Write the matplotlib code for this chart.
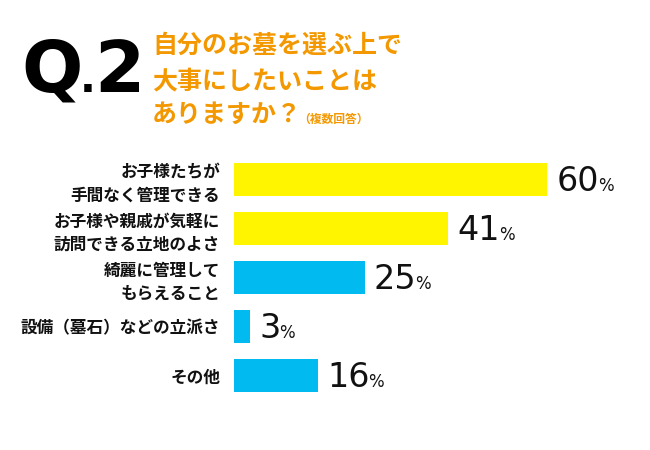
import matplotlib
matplotlib.use("Agg")
from matplotlib import pyplot as plt

plt.rcParams['font.family'] = ['Noto Sans CJK JP', 'DejaVu Sans']

# Data
labels = ["お子様たちが\n手間なく管理できる",
          "お子様や親戚が気軽に\n訪問できる立地のよさ",
          "綺麗に管理して\nもらえること",
          "設備（墓石）などの立派さ",
          "その他"]
values = [60, 41, 25, 3, 16]
colors = ["#FFF500", "#FFF500", "#00BAF0", "#00BAF0", "#00BAF0"]

title_lines = ["自分のお墓を選ぶ上で", "大事にしたいことは", "ありますか？"]
note = "（複数回答）"
orange = "#F39800"

W, H = 650, 450
fig = plt.figure(figsize=(6.5, 4.5), dpi=100)
fig.patch.set_facecolor("white")

# axes placed in pixel coordinates
ax_left, ax_right = 234, 650
ax_top, ax_bottom = 155, 400
ax = fig.add_axes([ax_left / W, 1 - ax_bottom / H,
                   (ax_right - ax_left) / W, (ax_bottom - ax_top) / H])
ypos = list(range(len(values)))
ax.barh(ypos, values, height=0.67, color=colors)
ax.set_xlim(0, (ax_right - ax_left) / 5.22)
ax.set_ylim(len(values) - 0.5, -0.5)
ax.set_yticks(ypos)
ax.set_yticklabels(labels, fontsize=12, fontweight="bold", linespacing=1.35,
                   color="#111111")
ax.tick_params(axis="y", length=0, pad=10)
ax.set_xticks([])
for s in ax.spines.values():
    s.set_visible(False)

fig.canvas.draw()
renderer = fig.canvas.get_renderer()

# value labels: big number + small %
for y, v in zip(ypos, values):
    t = ax.text(v + 1.8, y + 0.04, str(v), fontsize=24, family="DejaVu Sans",
                va="center", ha="left", color="#111111")
    bb = t.get_window_extent(renderer)
    fig.text((bb.x1 - 1) / W, (bb.y0 + bb.height * 0.2) / H, "%",
             fontsize=12, family="DejaVu Sans", color="#111111",
             ha="left", va="baseline")

# header "Q.2"
base = 1 - 92 / H
fig.text(21 / W, base, "Q", fontsize=52, family="DejaVu Sans",
         fontweight="bold", va="baseline", ha="left", color="black")
fig.text(80 / W, base, ".", fontsize=30, family="DejaVu Sans",
         fontweight="bold", va="baseline", ha="left", color="black")
fig.text(94 / W, base, "2", fontsize=52, family="DejaVu Sans",
         fontweight="bold", va="baseline", ha="left", color="black")

line_y = [46, 81, 115]
for txt, yy in zip(title_lines, line_y):
    t = fig.text(152 / W, 1 - yy / H, txt, fontsize=18, fontweight="bold",
                 color=orange, va="center", ha="left")
fig.canvas.draw()
bb = t.get_window_extent(renderer)
fig.text((bb.x1 - 4) / W, 1 - 119 / H, note, fontsize=8.5, fontweight="bold",
         color=orange, va="center", ha="left")

fig.savefig("out.png", dpi=100, facecolor="white")
